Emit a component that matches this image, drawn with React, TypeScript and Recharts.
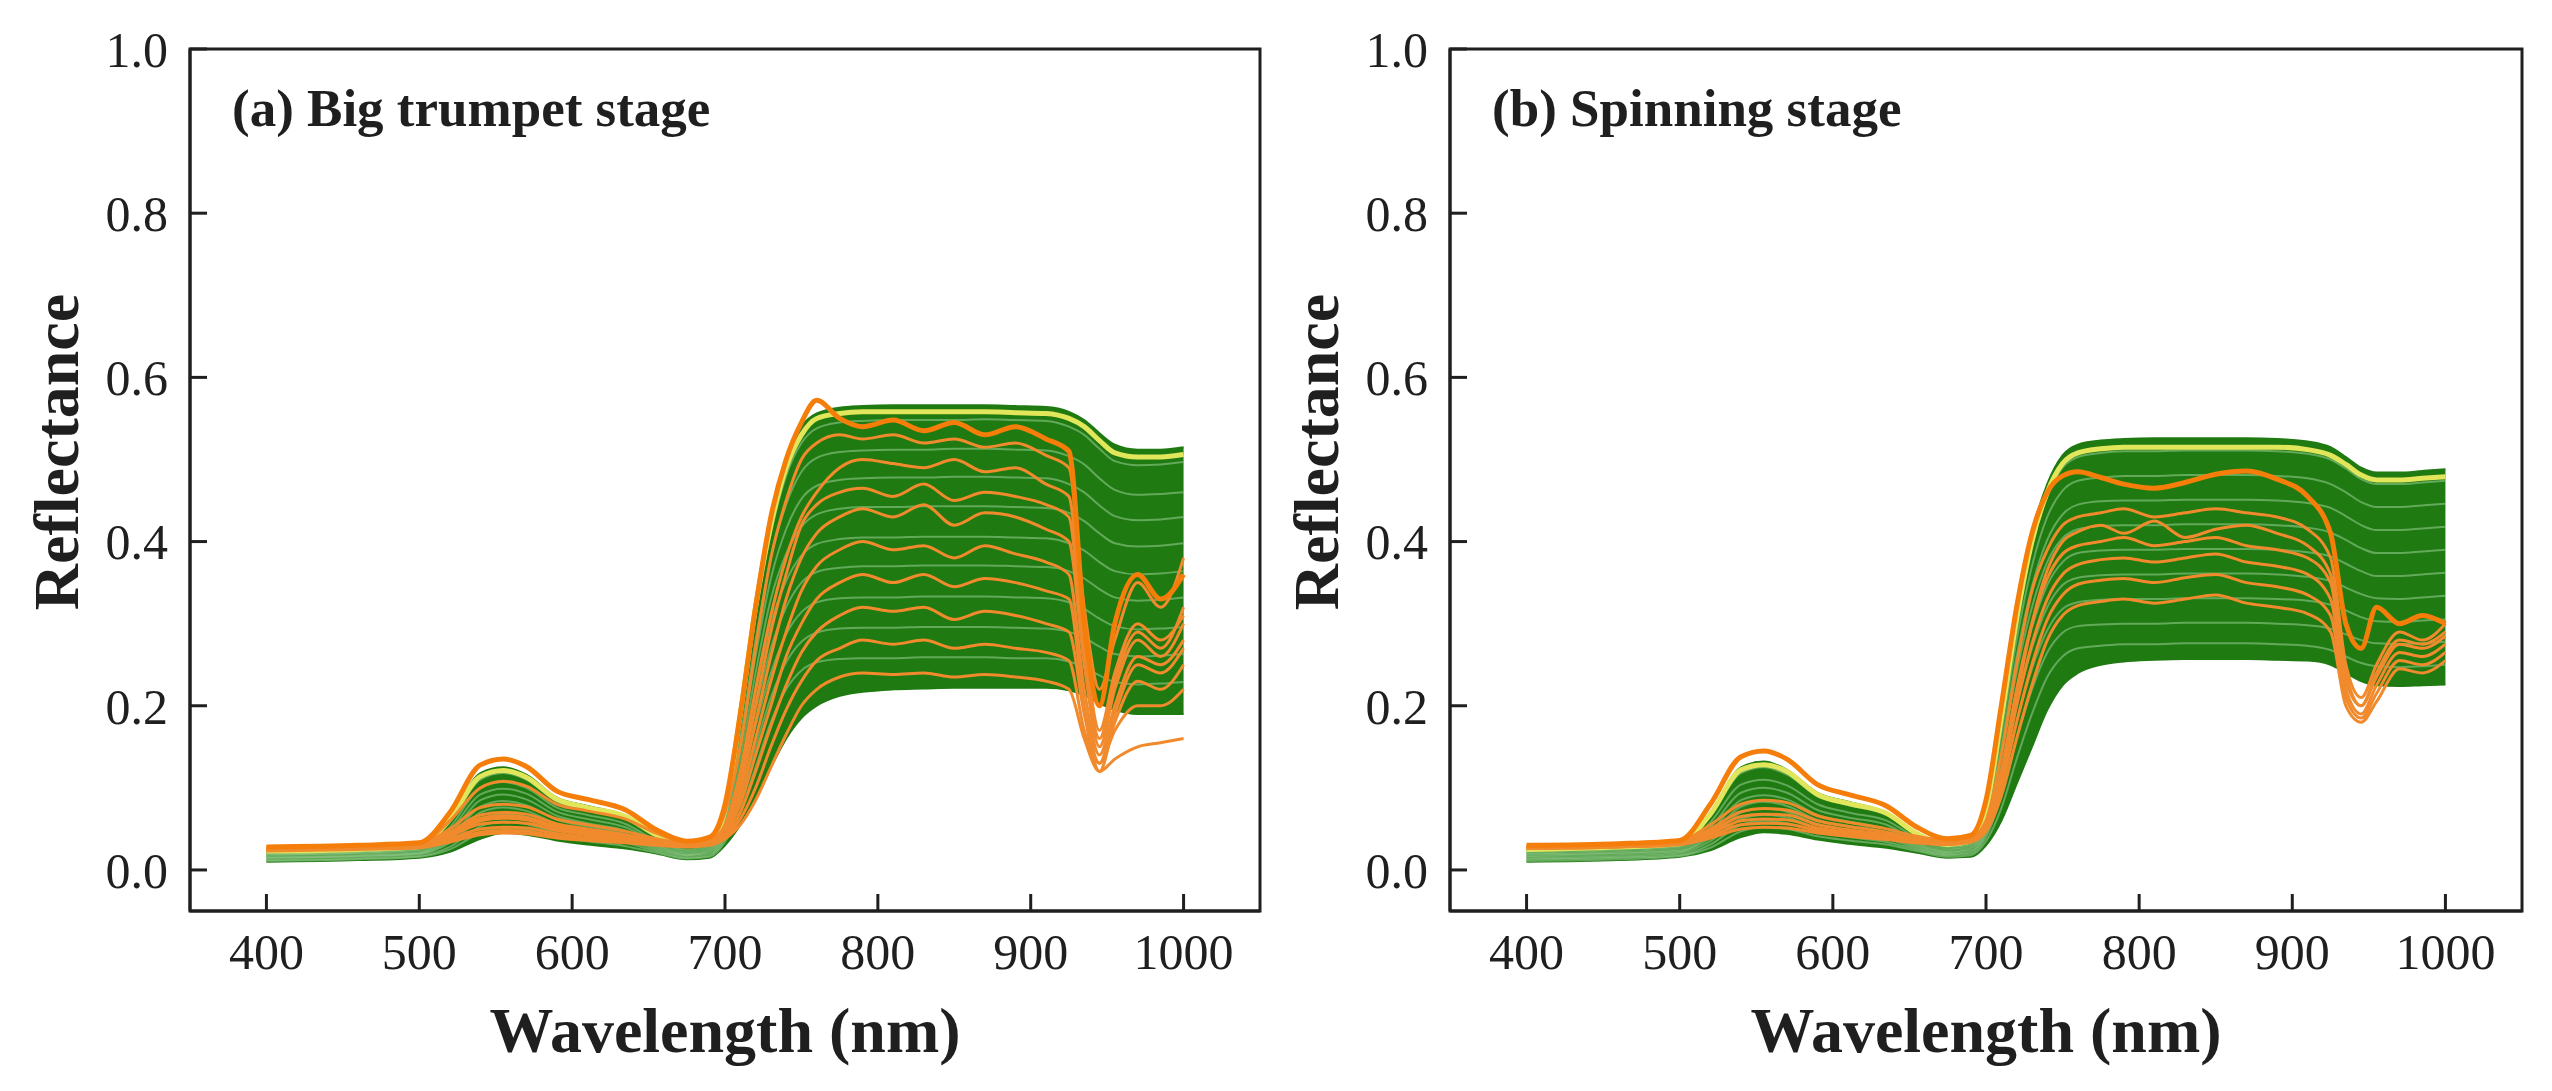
import React from 'react';
import { ComposedChart, Area, Line, XAxis, YAxis } from 'recharts';

// wavelength grid (nm) shared by every spectrum
const WAVELENGTHS = [
  400, 460, 500, 520, 540, 555, 570, 590, 610, 635, 655, 675,
  690, 700, 710, 720, 730, 740, 750, 760,
  775, 790, 810, 830, 850, 870, 890, 910,
  925, 935, 945, 955, 970, 985, 1000,
];

const X_TICKS = [400, 500, 600, 700, 800, 900, 1000];
const Y_TICKS = [0, 0.2, 0.4, 0.6, 0.8, 1.0];

// ---- (a) Big trumpet stage ----
const A_GREEN_HI = [
  0.024, 0.026, 0.03, 0.062, 0.118, 0.125, 0.116, 0.088, 0.078, 0.066, 0.042, 0.03,
  0.034, 0.075, 0.2, 0.33, 0.43, 0.5, 0.54, 0.556,
  0.563, 0.565, 0.566, 0.566, 0.566, 0.566, 0.565, 0.564,
  0.558, 0.548, 0.532, 0.518, 0.512, 0.512, 0.515,
];
const A_GREEN_LO = [
  0.01, 0.012, 0.015, 0.022, 0.038, 0.045, 0.043, 0.036, 0.031, 0.026, 0.02, 0.013,
  0.015, 0.03, 0.055, 0.09, 0.125, 0.16, 0.185, 0.2,
  0.212, 0.217, 0.22, 0.221, 0.222, 0.222, 0.222, 0.222,
  0.219, 0.213, 0.203, 0.195, 0.19, 0.19, 0.19,
];
const A_G1 = [
  0.022, 0.024, 0.028, 0.058, 0.11, 0.118, 0.11, 0.083, 0.073, 0.062, 0.04, 0.028,
  0.032, 0.07, 0.18, 0.31, 0.41, 0.48, 0.52, 0.538,
  0.545, 0.547, 0.548, 0.548, 0.548, 0.549, 0.548, 0.547,
  0.54, 0.53, 0.513, 0.498, 0.493, 0.494, 0.497,
];
const A_G2 = [
  0.02, 0.022, 0.026, 0.052, 0.1, 0.107, 0.1, 0.076, 0.067, 0.056, 0.036, 0.025,
  0.03, 0.065, 0.16, 0.28, 0.38, 0.445, 0.485, 0.502,
  0.509, 0.511, 0.512, 0.512, 0.513, 0.513, 0.512, 0.511,
  0.504, 0.494, 0.477, 0.463, 0.457, 0.458, 0.46,
];
const A_G3 = [
  0.019, 0.021, 0.025, 0.048, 0.092, 0.099, 0.093, 0.071, 0.062, 0.052, 0.034, 0.023,
  0.028, 0.06, 0.15, 0.26, 0.355, 0.415, 0.452, 0.468,
  0.475, 0.477, 0.478, 0.478, 0.479, 0.479, 0.478, 0.477,
  0.47, 0.46, 0.444, 0.431, 0.426, 0.427, 0.43,
];
const A_G4 = [
  0.018, 0.02, 0.023, 0.044, 0.085, 0.092, 0.086, 0.066, 0.057, 0.048, 0.031, 0.021,
  0.026, 0.055, 0.135, 0.24, 0.33, 0.385, 0.418, 0.433,
  0.44, 0.442, 0.442, 0.443, 0.443, 0.443, 0.442, 0.441,
  0.435, 0.425, 0.41, 0.398, 0.394, 0.395, 0.398,
];
const A_G5 = [
  0.016, 0.018, 0.021, 0.04, 0.077, 0.084, 0.079, 0.061, 0.053, 0.044, 0.029, 0.019,
  0.024, 0.05, 0.12, 0.215, 0.3, 0.352, 0.383, 0.397,
  0.403, 0.405, 0.405, 0.406, 0.406, 0.406, 0.405, 0.404,
  0.398, 0.389, 0.375, 0.364, 0.36, 0.361, 0.364,
];
const A_G6 = [
  0.015, 0.017, 0.02, 0.036, 0.07, 0.076, 0.072, 0.056, 0.048, 0.04, 0.027, 0.018,
  0.022, 0.046, 0.11, 0.195, 0.27, 0.32, 0.35, 0.363,
  0.368, 0.37, 0.37, 0.371, 0.371, 0.371, 0.37, 0.369,
  0.364, 0.355, 0.342, 0.332, 0.328, 0.329, 0.332,
];
const A_G7 = [
  0.014, 0.016, 0.019, 0.033, 0.062, 0.068, 0.065, 0.051, 0.044, 0.037, 0.025, 0.017,
  0.02, 0.042, 0.1, 0.175, 0.24, 0.287, 0.314, 0.326,
  0.331, 0.332, 0.332, 0.333, 0.333, 0.333, 0.332, 0.331,
  0.326, 0.318, 0.306, 0.297, 0.293, 0.294, 0.296,
];
const A_G8 = [
  0.012, 0.014, 0.017, 0.028, 0.053, 0.059, 0.056, 0.045, 0.039, 0.033, 0.023, 0.015,
  0.018, 0.038, 0.085, 0.15, 0.21, 0.253, 0.278, 0.289,
  0.294, 0.295, 0.295, 0.296, 0.296, 0.296, 0.295, 0.294,
  0.29, 0.283, 0.272, 0.263, 0.26, 0.261, 0.263,
];
const A_G9 = [
  0.011, 0.013, 0.016, 0.025, 0.045, 0.051, 0.049, 0.04, 0.035, 0.029, 0.021, 0.014,
  0.016, 0.034, 0.072, 0.125, 0.18, 0.22, 0.243, 0.253,
  0.257, 0.258, 0.258, 0.259, 0.259, 0.259, 0.258, 0.258,
  0.254, 0.247, 0.237, 0.229, 0.226, 0.227, 0.229,
];
const A_YELLOW = [
  0.023, 0.025, 0.029, 0.062, 0.114, 0.121, 0.113, 0.086, 0.076, 0.065, 0.043, 0.03,
  0.034, 0.073, 0.19, 0.32, 0.42, 0.49, 0.53, 0.55,
  0.556, 0.558, 0.558, 0.558, 0.558, 0.558, 0.557, 0.556,
  0.55, 0.54, 0.523, 0.508, 0.503, 0.503, 0.506,
];
const A_O1 = [
  0.028, 0.03, 0.033, 0.07, 0.128, 0.135, 0.126, 0.096, 0.086, 0.073, 0.049, 0.035,
  0.04, 0.08, 0.19, 0.32, 0.43, 0.5, 0.545, 0.572,
  0.55, 0.54, 0.548, 0.535, 0.545, 0.53, 0.54, 0.525,
  0.51, 0.3, 0.2, 0.3, 0.36, 0.33, 0.36,
];
const A_O2 = [
  0.027, 0.029, 0.032, 0.05, 0.076, 0.08, 0.077, 0.062, 0.055, 0.047, 0.038, 0.033,
  0.036, 0.055, 0.12, 0.22, 0.31, 0.38, 0.43, 0.46,
  0.49, 0.5, 0.495, 0.49, 0.5, 0.485, 0.49, 0.47,
  0.455, 0.28, 0.17, 0.24, 0.3, 0.28, 0.31,
];
const A_O3 = [
  0.026, 0.028, 0.031, 0.046, 0.067, 0.07, 0.068, 0.056, 0.05, 0.043, 0.036, 0.032,
  0.035, 0.05, 0.1, 0.18, 0.26, 0.33, 0.38, 0.41,
  0.43, 0.44, 0.43, 0.445, 0.42, 0.435, 0.43, 0.415,
  0.4, 0.25, 0.15, 0.22, 0.28, 0.26, 0.3,
];
const A_O4 = [
  0.025, 0.027, 0.03, 0.043, 0.06, 0.063, 0.061, 0.051, 0.046, 0.04, 0.034, 0.031,
  0.034, 0.048, 0.09, 0.16, 0.23, 0.29, 0.34, 0.37,
  0.39, 0.4, 0.39, 0.395, 0.38, 0.395, 0.385, 0.375,
  0.36, 0.22, 0.14, 0.2, 0.26, 0.25, 0.28,
];
const A_O5 = [
  0.025, 0.027, 0.03, 0.041, 0.056, 0.058, 0.057, 0.048, 0.043, 0.038, 0.033, 0.03,
  0.033, 0.045, 0.08, 0.14, 0.2, 0.26, 0.3, 0.33,
  0.35, 0.36, 0.35, 0.36, 0.345, 0.355, 0.35, 0.34,
  0.33, 0.2, 0.13, 0.19, 0.25, 0.24, 0.27,
];
const A_O6 = [
  0.024, 0.026, 0.029, 0.038, 0.05, 0.052, 0.051, 0.044, 0.04, 0.036, 0.032, 0.03,
  0.032, 0.042, 0.07, 0.12, 0.175, 0.225, 0.265, 0.29,
  0.31, 0.32, 0.315, 0.32, 0.305, 0.315, 0.31, 0.3,
  0.29, 0.19, 0.12, 0.18, 0.23, 0.22, 0.25,
];
const A_O7 = [
  0.024, 0.026, 0.028, 0.036, 0.046, 0.048, 0.047, 0.041, 0.038, 0.034, 0.031, 0.029,
  0.031, 0.04, 0.062, 0.1, 0.15, 0.195, 0.23, 0.255,
  0.27, 0.28, 0.275, 0.28, 0.27, 0.275, 0.27, 0.265,
  0.255, 0.17, 0.13, 0.17, 0.2, 0.2, 0.22,
];
const A_O8 = [
  0.023, 0.025, 0.027, 0.034, 0.043, 0.045, 0.044, 0.039, 0.036, 0.033, 0.03, 0.028,
  0.03, 0.038, 0.055, 0.085, 0.125, 0.165, 0.2, 0.22,
  0.235, 0.24, 0.238, 0.24, 0.235, 0.238, 0.235, 0.23,
  0.22, 0.16, 0.12, 0.135, 0.15, 0.155, 0.16,
];
const A_O9 = [
  0.027, 0.029, 0.032, 0.06, 0.1, 0.108, 0.102, 0.08, 0.072, 0.062, 0.045, 0.034,
  0.037, 0.07, 0.15, 0.27, 0.38, 0.45, 0.5, 0.52,
  0.53, 0.525, 0.53, 0.52, 0.525, 0.515, 0.52, 0.505,
  0.49, 0.32, 0.22, 0.28, 0.35, 0.32, 0.38,
];
const A_O10 = [
  0.026, 0.028, 0.031, 0.045, 0.063, 0.066, 0.064, 0.053, 0.047, 0.041, 0.035, 0.031,
  0.034, 0.05, 0.11, 0.2, 0.29, 0.36, 0.42, 0.445,
  0.46, 0.465, 0.455, 0.47, 0.45, 0.46, 0.455, 0.445,
  0.43, 0.26, 0.16, 0.23, 0.29, 0.27, 0.32,
];

// ---- (b) Spinning stage ----
const B_GREEN_HI = [
  0.025, 0.028, 0.033, 0.07, 0.125, 0.132, 0.122, 0.094, 0.083, 0.07, 0.045, 0.032,
  0.036, 0.075, 0.19, 0.31, 0.41, 0.47, 0.505, 0.518,
  0.523, 0.525, 0.526, 0.526, 0.526, 0.526, 0.525, 0.522,
  0.515, 0.503, 0.49, 0.484, 0.484, 0.486, 0.488,
];
const B_GREEN_LO = [
  0.01, 0.012, 0.016, 0.024, 0.04, 0.046, 0.044, 0.037, 0.032, 0.027, 0.021, 0.015,
  0.016, 0.03, 0.06, 0.105, 0.15, 0.195, 0.225, 0.24,
  0.25, 0.254, 0.256, 0.257, 0.257, 0.257, 0.256, 0.255,
  0.25, 0.24, 0.23, 0.225, 0.224, 0.225, 0.226,
];
const B_G1 = [
  0.024, 0.027, 0.031, 0.066, 0.118, 0.125, 0.116, 0.09, 0.079, 0.067, 0.043, 0.031,
  0.035, 0.072, 0.18, 0.3, 0.395, 0.455, 0.49, 0.503,
  0.508, 0.51, 0.51, 0.511, 0.511, 0.511, 0.51, 0.507,
  0.5, 0.489, 0.476, 0.47, 0.47, 0.472, 0.474,
];
const B_G2 = [
  0.022, 0.025, 0.029, 0.058, 0.104, 0.11, 0.103, 0.08, 0.07, 0.06, 0.039, 0.028,
  0.032, 0.066, 0.165, 0.28, 0.37, 0.43, 0.462, 0.474,
  0.478, 0.48, 0.48, 0.481, 0.481, 0.481, 0.48, 0.477,
  0.47, 0.46, 0.448, 0.442, 0.442, 0.444, 0.446,
];
const B_G3 = [
  0.02, 0.023, 0.027, 0.052, 0.094, 0.1, 0.094, 0.073, 0.064, 0.055, 0.036, 0.026,
  0.03, 0.06, 0.15, 0.26, 0.345, 0.402, 0.433, 0.445,
  0.449, 0.45, 0.45, 0.451, 0.451, 0.451, 0.45, 0.447,
  0.441, 0.431, 0.42, 0.414, 0.414, 0.416, 0.418,
];
const B_G4 = [
  0.019, 0.021, 0.025, 0.047, 0.085, 0.091, 0.086, 0.067, 0.059, 0.05, 0.033, 0.024,
  0.028, 0.056, 0.14, 0.24, 0.32, 0.375, 0.404, 0.415,
  0.419, 0.42, 0.42, 0.421, 0.421, 0.421, 0.42, 0.417,
  0.411, 0.402, 0.392, 0.386, 0.386, 0.388, 0.39,
];
const B_G5 = [
  0.017, 0.02, 0.023, 0.043, 0.077, 0.083, 0.078, 0.061, 0.054, 0.046, 0.031, 0.022,
  0.026, 0.052, 0.125, 0.22, 0.295, 0.347, 0.375, 0.386,
  0.389, 0.39, 0.39, 0.391, 0.391, 0.391, 0.39, 0.387,
  0.382, 0.373, 0.364, 0.358, 0.358, 0.36, 0.362,
];
const B_G6 = [
  0.016, 0.018, 0.022, 0.039, 0.07, 0.075, 0.071, 0.056, 0.049, 0.042, 0.029, 0.021,
  0.024, 0.048, 0.115, 0.2, 0.27, 0.32, 0.347, 0.356,
  0.359, 0.36, 0.36, 0.361, 0.361, 0.361, 0.36, 0.357,
  0.352, 0.344, 0.336, 0.331, 0.33, 0.332, 0.334,
];
const B_G7 = [
  0.014, 0.016, 0.02, 0.035, 0.062, 0.067, 0.064, 0.051, 0.045, 0.038, 0.027, 0.019,
  0.022, 0.044, 0.1, 0.18, 0.245, 0.292, 0.318, 0.326,
  0.329, 0.33, 0.33, 0.331, 0.331, 0.331, 0.33, 0.328,
  0.323, 0.316, 0.308, 0.303, 0.302, 0.304, 0.305,
];
const B_G8 = [
  0.013, 0.015, 0.018, 0.031, 0.055, 0.06, 0.057, 0.046, 0.04, 0.034, 0.025, 0.018,
  0.02, 0.04, 0.09, 0.16, 0.22, 0.265, 0.289, 0.297,
  0.299, 0.3, 0.3, 0.301, 0.301, 0.301, 0.3, 0.298,
  0.294, 0.287, 0.28, 0.276, 0.275, 0.276, 0.278,
];
const B_G9 = [
  0.011, 0.013, 0.017, 0.027, 0.047, 0.052, 0.05, 0.041, 0.036, 0.031, 0.023, 0.016,
  0.018, 0.035, 0.075, 0.135, 0.19, 0.235, 0.26, 0.27,
  0.273, 0.275, 0.275, 0.276, 0.276, 0.276, 0.275, 0.273,
  0.268, 0.26, 0.252, 0.248, 0.247, 0.248, 0.25,
];
const B_YELLOW = [
  0.025, 0.028, 0.032, 0.068, 0.122, 0.128, 0.12, 0.092, 0.081, 0.069, 0.044, 0.031,
  0.035, 0.074, 0.185, 0.305, 0.4, 0.46, 0.495, 0.508,
  0.513, 0.515, 0.515, 0.515, 0.515, 0.515, 0.515, 0.512,
  0.505, 0.494, 0.481, 0.475, 0.475, 0.477, 0.479,
];
const B_O1 = [
  0.03, 0.032, 0.036, 0.08, 0.138, 0.145, 0.135, 0.104, 0.092, 0.078, 0.052, 0.038,
  0.042, 0.085, 0.2, 0.32, 0.41, 0.46, 0.48, 0.485,
  0.478, 0.47, 0.465, 0.472, 0.482, 0.486, 0.476, 0.455,
  0.41, 0.3, 0.27, 0.32, 0.3, 0.31, 0.3,
];
const B_O2 = [
  0.029, 0.031, 0.035, 0.055, 0.08, 0.085, 0.082, 0.066, 0.058, 0.05, 0.041, 0.036,
  0.039, 0.06, 0.14, 0.25, 0.34, 0.39, 0.42, 0.43,
  0.435, 0.44, 0.43, 0.435, 0.44, 0.435, 0.43, 0.415,
  0.38, 0.25, 0.21, 0.25, 0.29, 0.28, 0.3,
];
const B_O3 = [
  0.028, 0.03, 0.034, 0.05, 0.071, 0.075, 0.073, 0.06, 0.053, 0.046, 0.038, 0.034,
  0.037, 0.055, 0.12, 0.22, 0.3, 0.355, 0.385, 0.395,
  0.4, 0.405, 0.395, 0.4, 0.405, 0.395, 0.39, 0.38,
  0.35, 0.23, 0.2, 0.235, 0.275, 0.27, 0.285,
];
const B_O4 = [
  0.028, 0.03, 0.033, 0.047, 0.065, 0.068, 0.067, 0.055, 0.049, 0.043, 0.036, 0.033,
  0.036, 0.052, 0.11, 0.2, 0.275, 0.33, 0.36, 0.372,
  0.378, 0.38, 0.375, 0.38, 0.385, 0.375, 0.37, 0.36,
  0.33, 0.22, 0.19, 0.225, 0.265, 0.26, 0.275,
];
const B_O5 = [
  0.027, 0.029, 0.032, 0.044, 0.06, 0.062, 0.061, 0.051, 0.046, 0.04, 0.034, 0.032,
  0.035, 0.05, 0.1, 0.18, 0.25, 0.305, 0.335, 0.348,
  0.353, 0.355, 0.35, 0.356, 0.36, 0.35, 0.345, 0.335,
  0.31, 0.21, 0.185, 0.215, 0.255, 0.25, 0.265,
];
const B_O6 = [
  0.026, 0.028, 0.031, 0.041, 0.055, 0.057, 0.056, 0.048, 0.043, 0.038, 0.033, 0.031,
  0.034, 0.047, 0.09, 0.16, 0.225, 0.28, 0.31, 0.322,
  0.327, 0.33, 0.325, 0.33, 0.335, 0.325, 0.32, 0.312,
  0.29, 0.2, 0.18, 0.205, 0.245, 0.24, 0.255,
];
const B_O7 = [
  0.026, 0.028, 0.031, 0.039, 0.05, 0.052, 0.051, 0.045, 0.041, 0.037, 0.033, 0.031,
  0.034, 0.05, 0.11, 0.21, 0.3, 0.365, 0.4, 0.412,
  0.42, 0.41, 0.425, 0.405, 0.415, 0.42, 0.41, 0.395,
  0.36, 0.24, 0.2, 0.24, 0.28, 0.275, 0.29,
];

const A_STREAKS = [A_G1, A_G2, A_G3, A_G4, A_G5, A_G6, A_G7, A_G8, A_G9];
const A_ORANGES = [A_O2, A_O3, A_O4, A_O5, A_O6, A_O7, A_O8, A_O9, A_O10, A_O1];
const B_STREAKS = [B_G1, B_G2, B_G3, B_G4, B_G5, B_G6, B_G7, B_G8, B_G9];
const B_ORANGES = [B_O2, B_O3, B_O4, B_O5, B_O6, B_O7, B_O1];

const FONT = "'Liberation Serif', 'DejaVu Serif', serif";
const INK = '#1f1f1f';
const BAND = '#1f7a12';
const STREAK = '#8fc888';
const YELLOW = '#e2e65a';
const ORANGE = '#f08a2c';
const ORANGE_TOP = '#f57d0a';

function buildRows(lo: number[], hi: number[], yellow: number[], streaks: number[][], oranges: number[][]) {
  return WAVELENGTHS.map((wl, i) => {
    const row: Record<string, any> = { wl, band: [lo[i], hi[i]], yellow: yellow[i] };
    streaks.forEach((s, k) => (row[`g${k}`] = s[i]));
    oranges.forEach((s, k) => (row[`o${k}`] = s[i]));
    return row;
  });
}

const rowsA = buildRows(A_GREEN_LO, A_GREEN_HI, A_YELLOW, A_STREAKS, A_ORANGES);
const rowsB = buildRows(B_GREEN_LO, B_GREEN_HI, B_YELLOW, B_STREAKS, B_ORANGES);

function Panel({ rows, streaks, oranges, rightMargin }: any) {
  const frame = { stroke: INK, strokeWidth: 3 };
  return (
    <ComposedChart width={1290} height={1091} data={rows} margin={{ top: 49, right: rightMargin, bottom: 0, left: 0 }}>
      <XAxis
        dataKey="wl"
        type="number"
        domain={[350, 1050]}
        ticks={X_TICKS}
        height={180}
        tickSize={-17}
        tickMargin={39}
        axisLine={frame}
        tickLine={frame}
        tick={{ fontSize: 50, fill: INK, fontFamily: FONT }}
      />
      <YAxis
        type="number"
        domain={[-0.05, 1]}
        ticks={Y_TICKS}
        width={190}
        tickSize={-17}
        tickMargin={39}
        axisLine={frame}
        tickLine={frame}
        tickFormatter={(v: number) => v.toFixed(1)}
        tick={{ fontSize: 50, fill: INK, fontFamily: FONT }}
      />
      <Area dataKey="band" type="monotone" fill={BAND} fillOpacity={1} stroke={BAND} strokeWidth={2} isAnimationActive={false} />
      {streaks.map((_: any, k: number) => (
        <Line key={`g${k}`} dataKey={`g${k}`} type="monotone" stroke={STREAK} strokeOpacity={0.6} strokeWidth={2} dot={false} isAnimationActive={false} />
      ))}
      <Line dataKey="yellow" type="monotone" stroke={YELLOW} strokeWidth={5} dot={false} isAnimationActive={false} />
      {oranges.map((_: any, k: number) => {
        const top = k === oranges.length - 1;
        return (
          <Line
            key={`o${k}`}
            dataKey={`o${k}`}
            type="monotone"
            stroke={top ? ORANGE_TOP : ORANGE}
            strokeWidth={top ? 5 : 3}
            dot={false}
            isAnimationActive={false}
          />
        );
      })}
    </ComposedChart>
  );
}

// titles, axis names and the closing top/right edges of each frame
function Labels({ plotLeft, plotWidth, title }: { plotLeft: number; plotWidth: number; title: string }) {
  return (
    <g fontFamily={FONT} fill={INK} fontWeight="bold">
      <rect x={plotLeft} y={49} width={plotWidth} height={862} fill="none" stroke={INK} strokeWidth={3} />
      <text x={plotLeft + 42} y={126} fontSize={53}>{title}</text>
      <text x={plotLeft + plotWidth / 2} y={1052} fontSize={64} textAnchor="middle">Wavelength (nm)</text>
      <text x={plotLeft - 112} y={452} fontSize={64} textAnchor="middle" transform={`rotate(-90 ${plotLeft - 112} 452)`}>
        Reflectance
      </text>
    </g>
  );
}

export default function App() {
  return (
    <div style={{ position: 'absolute', left: 0, top: 0, width: 2552, height: 1091, background: '#fff' }}>
      <div style={{ position: 'absolute', left: 0, top: 0 }}>
        <Panel rows={rowsA} streaks={A_STREAKS} oranges={A_ORANGES} rightMargin={30} />
      </div>
      <div style={{ position: 'absolute', left: 1260, top: 0 }}>
        <Panel rows={rowsB} streaks={B_STREAKS} oranges={B_ORANGES} rightMargin={28} />
      </div>
      <svg width={2552} height={1091} style={{ position: 'absolute', left: 0, top: 0, pointerEvents: 'none' }}>
        <Labels plotLeft={190} plotWidth={1070} title="(a) Big trumpet stage" />
        <Labels plotLeft={1450} plotWidth={1072} title="(b) Spinning stage" />
      </svg>
    </div>
  );
}
